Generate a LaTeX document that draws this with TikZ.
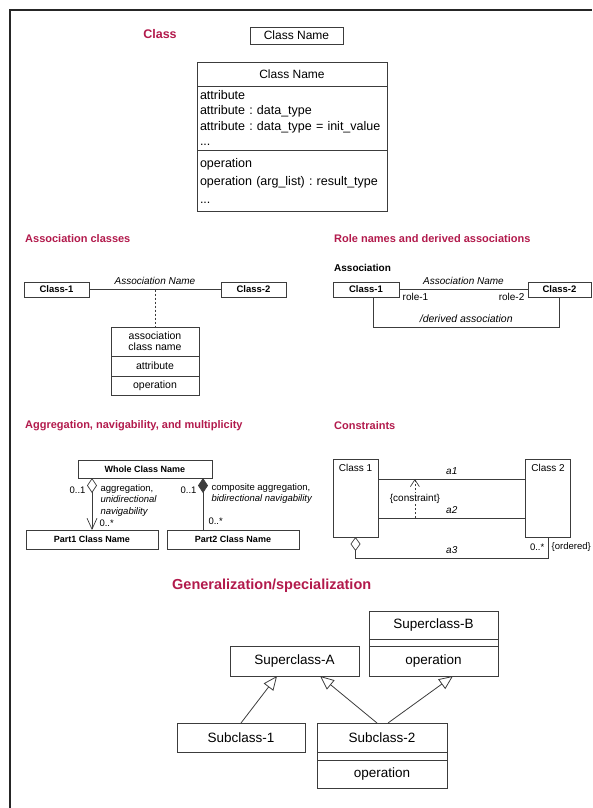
\documentclass[tikz,border=0pt]{standalone}
\usepackage{fontspec}
\setmainfont{Liberation Sans}
\usepackage{tikz}
\usetikzlibrary{positioning, arrows.meta}

\definecolor{headred}{RGB}{178,26,76}
\definecolor{linegray}{RGB}{60,60,60}
\newcommand{\sz}[2]{\fontsize{#1}{#2}\selectfont}
\frenchspacing

\begin{document}
\begin{tikzpicture}[x=1pt, y=1pt,
    box/.style={draw=linegray, line width=0.8pt, outer sep=0pt, inner sep=1pt},
    head/.style={text=headred, font=\bfseries\sz{11}{13}, anchor=west, inner sep=0pt},
    conn/.style={draw=linegray, line width=0.7pt},
    gen/.style={conn, line width=0.8pt, -{Triangle[open, length=14pt, width=12pt]}}]

    \useasboundingbox (0,0) rectangle (592,-808);
    % page frame (top and left only)
    \draw[line width=2.5pt, black!85] (10,-808) -- (10,-10) -- (592,-10);

    % Class
    \node[text=headred, font=\bfseries\sz{12.5}{14}] (hclass) at (160,-34) {Class};
    \node[box, minimum width=93, minimum height=17, font=\sz{12}{14}] (cname) at (296.5,-35.5) {Class Name};
    \node[box, minimum width=190, minimum height=24, font=\sz{12}{14}] (cbig) at (292,-74) {Class Name};
    \node[box, minimum width=190, minimum height=64, below=0pt of cbig, align=left, text width=184,
          font=\sz{12.5}{15.5}] (cattr) {attribute\\attribute : data\_type\\attribute : data\_type = init\_value\\...};
    \node[box, minimum width=190, minimum height=61, below=0pt of cattr, align=left, text width=184,
          font=\sz{12.5}{18}] (cops) {operation\\operation (arg\_list) : result\_type\\...};

    % Association classes
    \node[head] (hassoc) at (25,-239) {Association classes};
    \node[box, minimum width=65, minimum height=15, font=\bfseries\sz{9.5}{11}] (ac1) at (56.5,-289.5) {Class-1};
    \node[box, minimum width=65, minimum height=15, font=\bfseries\sz{9.5}{11}] (ac2) at (253.5,-289.5) {Class-2};
    \draw[conn] (ac1) -- (ac2) node[midway, above=1pt, font=\itshape\sz{10}{12}] {Association Name}
        coordinate[midway] (acmid);
    \node[box, minimum width=88, minimum height=29, align=center, font=\sz{10.5}{11}] (aname) at (155,-341.5) {association\\class name};
    \node[box, minimum width=88, minimum height=20, below=0pt of aname, font=\sz{10.5}{12}] (aattr) {attribute};
    \node[box, minimum width=88, minimum height=19, below=0pt of aattr, font=\sz{10.5}{12}] (aop) {operation};
    \draw[conn, dash pattern=on 2pt off 2pt] (acmid) -- (aname);

    % Role names and derived associations
    \node[head] (hrole) at (334,-239) {Role names and derived associations};
    \node[font=\bfseries\sz{10}{12}, anchor=west, inner sep=0pt] (hasc) at (334,-268) {Association};
    \node[box, minimum width=66, minimum height=15, font=\bfseries\sz{9.5}{11}] (rc1) at (366,-289.5) {Class-1};
    \node[box, minimum width=63, minimum height=15, font=\bfseries\sz{9.5}{11}] (rc2) at (559.5,-289.5) {Class-2};
    \draw[conn] (rc1) -- (rc2)
        node[midway, above=1pt, font=\itshape\sz{10}{12}] {Association Name}
        node[pos=0, below right, font=\sz{10}{12}] {role-1}
        node[pos=1, below left, font=\sz{10}{12}] {role-2};
    \draw[conn] ([xshift=7]rc1.south) -- ++(0,-30) -| (rc2.south)
        node[pos=0.25, above=1pt, font=\itshape\sz{10.5}{12}] {/derived association};

    % Aggregation, navigability, multiplicity
    \node[head] (hagg) at (25,-426) {Aggregation, navigability, and multiplicity};
    \node[box, minimum width=134, minimum height=18, font=\bfseries\sz{9}{11}] (whole) at (145,-469) {Whole Class Name};
    \node[box, minimum width=132, minimum height=19, font=\bfseries\sz{9}{11}] (part1) at (92,-539.5) {Part1 Class Name};
    \node[box, minimum width=132, minimum height=19, font=\bfseries\sz{9}{11}] (part2) at (233,-539.5) {Part2 Class Name};
    \coordinate (p2top) at ([xshift=-30]part2.north);
    \draw[conn, {Diamond[open, length=15pt, width=10pt]}-{Straight Barb[length=11pt, width=10pt]}]
        (whole.south -| part1.north) -- (part1.north);
    \draw[conn, {Diamond[length=15pt, width=10pt]}-] (whole.south -| p2top) -- (p2top);
    \node[anchor=east, font=\sz{9.5}{11}] (m1a) at (89,-490) {0..1};
    \node[anchor=north west, align=left, font=\sz{9.5}{11.5}] (t1) at (97,-481)
        {aggregation,\\\textit{unidirectional}\\\textit{navigability}};
    \node[anchor=west, font=\sz{9.5}{11}] (m1b) at (96,-523) {0..*};
    \node[anchor=east, font=\sz{9.5}{11}] (m2a) at (200,-490) {0..1};
    \node[anchor=north west, align=left, font=\sz{9.5}{11.5}] (t2) at (208,-480)
        {composite aggregation,\\\textit{bidirectional navigability}};
    \node[anchor=west, font=\sz{9.5}{11}] (m2b) at (205,-521) {0..*};

    % Constraints
    \node[head] (hcons) at (334,-426) {Constraints};
    \node[box, minimum width=45, minimum height=78] (k1) at (355.5,-498) {};
    \node[below=2pt of k1.north, font=\sz{10}{12}] (k1name) {Class 1};
    \node[box, minimum width=45, minimum height=78] (k2) at (548,-498) {};
    \node[below=2pt of k2.north, font=\sz{10}{12}] (k2name) {Class 2};
    \draw[conn] ([yshift=19]k1.east) -- ([yshift=19]k2.west)
        node[midway, above=1pt, font=\itshape\sz{10}{12}] {a1} coordinate[pos=0.25] (a1p);
    \draw[conn] ([yshift=-20]k1.east) -- ([yshift=-20]k2.west)
        node[midway, above=1pt, font=\itshape\sz{10}{12}] {a2} coordinate[pos=0.25] (a2p);
    \draw[conn, dash pattern=on 2pt off 2pt, -{Straight Barb[length=7pt, width=9pt]}] (a2p) -- (a1p)
        node[midway, fill=white, inner sep=1pt, font=\sz{10}{12}] {\{constraint\}};
    \draw[conn, {Diamond[open, length=14pt, width=10pt]}-] (k1.south) -- ++(0,-21) -| (k2.south)
        node[pos=0.25, above=1pt, font=\itshape\sz{10}{12}] {a3}
        node[pos=0.75, left, font=\sz{9.5}{11}] {0..*}
        node[pos=0.75, right, font=\sz{9.5}{11}] {\{ordered\}};

    % Generalization/specialization
    \node[head, font=\bfseries\sz{14.5}{16}] (hgen) at (172,-586) {Generalization/specialization};
    \node[box, line width=1pt, minimum width=129, minimum height=30, font=\sz{13.5}{15}] (supa) at (294.5,-661) {Superclass-A};
    \node[box, line width=1pt, minimum width=129, minimum height=28, font=\sz{13.5}{15}] (supb) at (433.5,-625) {Superclass-B};
    \node[box, line width=1pt, minimum width=129, minimum height=7, below=0pt of supb] (supbm) {};
    \node[box, line width=1pt, minimum width=129, minimum height=30, below=0pt of supbm, font=\sz{13.5}{15}] (supbo) {operation};
    \node[box, line width=1pt, minimum width=128, minimum height=29, font=\sz{13.5}{15}] (sub1) at (241,-737.5) {Subclass-1};
    \node[box, line width=1pt, minimum width=130, minimum height=29, font=\sz{13.5}{15}] (sub2) at (382,-737.5) {Subclass-2};
    \node[box, line width=1pt, minimum width=130, minimum height=8, below=0pt of sub2] (sub2m) {};
    \node[box, line width=1pt, minimum width=130, minimum height=28, below=0pt of sub2m, font=\sz{13.5}{15}] (sub2o) {operation};
    \draw[gen] (sub1.north) -- ([xshift=-17.5]supa.south);
    \draw[gen] ([xshift=-5]sub2.north) -- ([xshift=25.5]supa.south);
    \draw[gen] ([xshift=6]sub2.north) -- ([xshift=19.5]supbo.south);
\end{tikzpicture}
\end{document}
